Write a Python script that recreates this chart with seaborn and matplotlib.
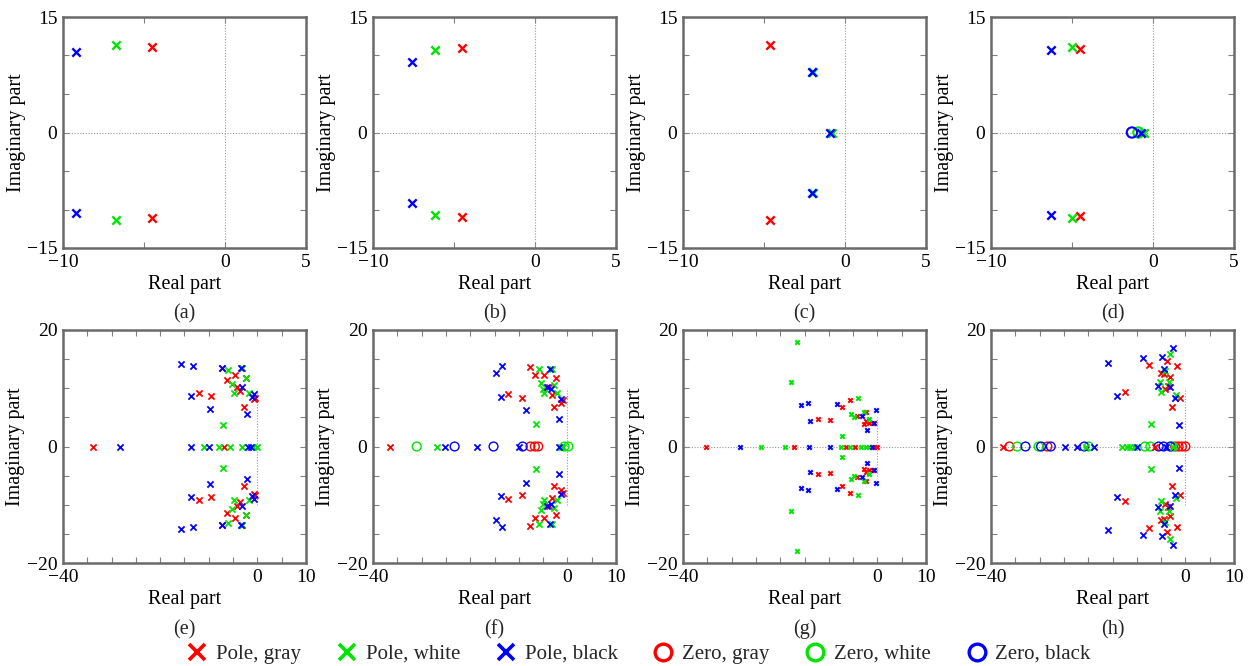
import matplotlib
matplotlib.use("Agg")
import matplotlib.pyplot as plt
from matplotlib.lines import Line2D
import seaborn as sns

# pole / zero locations, as (real, imag)
# imag != 0 means a conjugate pair (drawn at +imag and -imag)
a_pole_gray = [(-4.5, 11.1)]
a_pole_white = [(-6.7, 11.3)]
a_pole_black = [(-9.2, 10.5)]

b_pole_gray = [(-4.5, 11.0)]
b_pole_white = [(-6.2, 10.7)]
b_pole_black = [(-7.6, 9.1)]

c_pole_gray = [(-4.6, 11.3)]
c_pole_white = [(-1.95, 7.9), (-0.82, 0)]
c_pole_black = [(-2.05, 7.9), (-0.93, 0)]

d_pole_gray = [(-4.5, 10.9)]
d_pole_white = [(-5.0, 11.15), (-0.55, 0)]
d_pole_black = [(-6.3, 10.65), (-0.75, 0)]
d_zero_white = [(-0.9, 0)]
d_zero_black = [(-1.3, 0)]

e_pole_gray = [(-33.9, 0), (-6.8, 0), (-12.0, 9.2), (-9.5, 8.7), (-7.3, 13.5),
               (-6.2, 11.5), (-4.6, 12.2), (-4.1, 10.2), (-3.6, 9.6), (-3.2, 13.4),
               (-2.3, 11.7), (-2.7, 6.8), (-0.7, 8.1), (-0.5, 8.3)]
e_pole_white = [(-11.0, 0), (-7.9, 0), (-5.6, 0), (-3.2, 0), (-1.0, 0), (-0.1, 0),
                (-7.0, 3.7), (-6.0, 13.2), (-5.3, 10.8), (-4.9, 9.2), (-3.1, 13.4),
                (-2.3, 11.8), (-1.65, 9.2)]
e_pole_black = [(-28.3, 0), (-13.7, 0), (-9.9, 0), (-1.85, 0), (-1.3, 0),
                (-15.8, 14.2), (-13.3, 13.9), (-13.7, 8.6), (-9.75, 6.5), (-7.35, 13.5),
                (-3.2, 10.2), (-3.4, 13.4), (-2.2, 5.5), (-0.8, 9.0), (-1.2, 8.5)]

f_pole_gray = [(-36.4, 0), (-12.2, 9.0), (-9.4, 8.3), (-7.6, 13.6), (-6.7, 12.2),
               (-4.9, 12.3), (-3.8, 10.2), (-2.4, 11.7), (-3.1, 8.8), (-2.7, 6.8),
               (-1.0, 8.0), (-1.4, 7.5)]
f_pole_white = [(-26.8, 0), (-1.3, 0), (-0.9, 0), (-6.4, 3.9), (-5.8, 13.3),
                (-5.5, 10.9), (-5.0, 9.9), (-4.8, 9.1), (-3.1, 13.3), (-2.7, 10.5),
                (-2.1, 9.2)]
f_pole_black = [(-25.1, 0), (-18.5, 0), (-10.0, 0), (-1.7, 0), (-14.6, 12.6),
                (-13.4, 13.8), (-13.7, 8.5), (-8.6, 6.2), (-4.1, 10.3), (-3.6, 13.3),
                (-3.3, 9.9), (-1.7, 4.7), (-1.4, 8.1)]
f_zero_gray = [(-7.6, 0), (-6.7, 0), (-6.0, 0)]
f_zero_white = [(-31.0, 0), (-0.6, 0), (0.2, 0)]
f_zero_black = [(-23.2, 0), (-15.2, 0), (-9.2, 0)]

g_pole_gray = [(-35.2, 0), (-17.2, 0), (-6.5, 0), (-4.7, 0), (-0.7, 0), (-0.1, 0),
               (-12.2, 4.7), (-9.75, 4.5), (-7.2, 6.7), (-5.7, 7.9), (-4.1, 5.2),
               (-2.4, 6.0), (-2.7, 3.8), (-2.4, 4.4), (-1.7, 4.1), (-1.0, 4.1)]
g_pole_white = [(-23.9, 0), (-19.1, 0), (-7.4, 0), (-5.6, 0), (-3.4, 0), (-2.3, 0),
                (-1.7, 0), (-16.5, 18.0), (-17.7, 11.1), (-7.2, 1.8), (-4.0, 8.3),
                (-5.5, 5.6), (-4.8, 5.0), (-2.7, 6.0), (-1.7, 4.7)]
g_pole_black = [(-28.3, 0), (-14.1, 0), (-9.75, 0), (-1.2, 0), (-15.8, 7.1),
                (-14.3, 7.4), (-13.9, 4.3), (-8.4, 7.3), (-3.1, 5.2), (-0.35, 6.3),
                (-2.2, 2.8), (-0.7, 4.1)]

h_pole_gray = [(-37.5, 0), (-6.3, 0), (-12.4, 9.3), (-7.4, 14.0), (-5.0, 12.6),
               (-4.5, 12.5), (-4.3, 9.9), (-3.6, 10.4), (-3.1, 12.0), (-3.8, 14.7),
               (-1.7, 13.9), (-1.2, 8.4), (-2.8, 6.8)]
h_pole_white = [(-20.5, 0), (-13.1, 0), (-12.0, 0), (-11.3, 0), (-10.5, 0), (-2.5, 0),
                (-7.1, 3.8), (-5.3, 11.0), (-5.0, 9.4), (-4.1, 12.9), (-3.4, 11.1),
                (-3.2, 15.9), (-1.9, 8.9)]
h_pole_black = [(-24.8, 0), (-22.4, 0), (-18.9, 0), (-9.9, 0), (-4.0, 0),
                (-16.0, 14.3), (-14.1, 8.7), (-8.7, 15.2), (-4.8, 15.4), (-5.6, 10.4),
                (-4.5, 13.3), (-3.1, 10.3), (-2.5, 16.9), (-2.1, 8.4), (-1.4, 3.7)]
h_zero_gray = [(-36.2, 0), (-28.4, 0), (-2.1, 0), (-1.4, 0), (-0.7, 0), (0.0, 0)]
h_zero_white = [(-34.6, 0), (-30.2, 0), (-19.9, 0), (-8.3, 0), (-7.2, 0), (-2.7, 0)]
h_zero_black = [(-32.9, 0), (-29.7, 0), (-27.7, 0), (-20.8, 0), (-5.5, 0), (-4.5, 0), (-3.1, 0)]

panel_labels = ["(a)", "(b)", "(c)", "(d)", "(e)", "(f)", "(g)", "(h)"]
legend_labels = ["Pole, gray", "Pole, white", "Pole, black",
                 "Zero, gray", "Zero, white", "Zero, black"]

RED, GREEN, BLUE = "#ff0000", "#00e600", "#0000ff"
FRAME = "#6a6a6a"

panels = [
    ([a_pole_gray, a_pole_white, a_pole_black], [[], [], []]),
    ([b_pole_gray, b_pole_white, b_pole_black], [[], [], []]),
    ([c_pole_gray, c_pole_white, c_pole_black], [[], [], []]),
    ([d_pole_gray, d_pole_white, d_pole_black], [[], d_zero_white, d_zero_black]),
    ([e_pole_gray, e_pole_white, e_pole_black], [[], [], []]),
    ([f_pole_gray, f_pole_white, f_pole_black], [f_zero_gray, f_zero_white, f_zero_black]),
    ([g_pole_gray, g_pole_white, g_pole_black], [[], [], []]),
    ([h_pole_gray, h_pole_white, h_pole_black], [h_zero_gray, h_zero_white, h_zero_black]),
]


def mirror(pts):
    xs, ys = [], []
    for re, im in pts:
        xs.append(re)
        ys.append(im)
        if im != 0:
            xs.append(re)
            ys.append(-im)
    return xs, ys


def draw_points(ax, pts, color, hollow, size, lw):
    if not pts:
        return
    xs, ys = mirror(pts)
    if hollow:
        sns.scatterplot(x=xs, y=ys, marker="o", s=size, color=color, facecolors="none",
                        edgecolor=color, linewidth=lw, ax=ax, legend=False, zorder=3)
    else:
        sns.scatterplot(x=xs, y=ys, marker="x", s=size, color=color,
                        linewidth=lw, ax=ax, legend=False, zorder=4)


sns.set_theme(style="white")
plt.rcParams["font.family"] = ["Liberation Serif", "DejaVu Serif"]
plt.rcParams["axes.unicode_minus"] = True

fig = plt.figure(figsize=(12.55, 6.66), dpi=100)
lefts = [63, 373, 683, 991]
W, H = 1255, 666

for i, (poles, zeros) in enumerate(panels):
    row, col = divmod(i, 4)
    top, bot = (17, 248) if row == 0 else (330, 563)
    ax = fig.add_axes([lefts[col] / W, 1 - bot / H, 243 / W, (bot - top) / H])

    if row == 0:
        xlim, ylim = (-10, 5), (-15, 15)
        xt = [-10, -5, 0, 5]
        xl = ["\u221210", "", "0", "5"]
        yt = [-15, -10, -5, 0, 5, 10, 15]
        yl = ["\u221215", "", "", "0", "", "", "15"]
        psize, plw, zsize, zlw = 36, 1.7, 55, 1.5
    else:
        xlim, ylim = (-40, 10), (-20, 20)
        xt = list(range(-40, 11, 5))
        xl = ["\u221240"] + [""] * 7 + ["0", "", "10"]
        yt = list(range(-20, 21, 5))
        yl = ["\u221220", "", "", "", "0", "", "", "", "20"]
        psize, plw, zsize, zlw = 20, 1.3, 40, 1.0
        if i == 6:
            psize, plw = 10, 1.5

    # reference lines through the origin
    gl = dict(color="#9a9a9a", lw=0.8, ls=(0, (1, 1.5)), zorder=1)
    if row == 0:
        ax.axhline(0, **gl)
        ax.axvline(0, **gl)
    else:
        span = 5 if i == 6 else 10
        ax.axvline(0, ymin=(20 - span) / 40, ymax=(20 + span) / 40, **gl)
        if i in (6, 7):
            ax.axhline(0, **gl)

    for pts, c in zip(zeros, [RED, GREEN, BLUE]):
        draw_points(ax, pts, c, True, zsize, zlw)
    for pts, c in zip(poles, [RED, GREEN, BLUE]):
        draw_points(ax, pts, c, False, psize, plw)

    ax.set_xlim(*xlim)
    ax.set_ylim(*ylim)
    ax.set_xticks(xt)
    ax.set_xticklabels(xl)
    ax.set_yticks(yt)
    ax.set_yticklabels(yl)
    ax.tick_params(direction="in", length=4, width=0.8, color="#808080",
                   top=True, right=True, bottom=True, left=True,
                   labelsize=14, pad=4, labelcolor="black")
    for sp in ax.spines.values():
        sp.set_visible(True)
        sp.set_color(FRAME)
        sp.set_linewidth(1.8)
    ax.set_xlabel("Real part", fontsize=14.5, labelpad=3, color="black")
    ax.set_ylabel("Imaginary part", fontsize=14.5, labelpad=1, color="black")
    ax.text(0.5, -0.285, panel_labels[i], transform=ax.transAxes,
            ha="center", va="center", fontsize=14.5)

handles = []
for lab, c in zip(legend_labels, [RED, GREEN, BLUE] * 2):
    if lab.startswith("Pole"):
        handles.append(Line2D([], [], ls="none", marker="x", color=c,
                              markersize=11, mew=2.6, label=lab))
    else:
        handles.append(Line2D([], [], ls="none", marker="o", color=c, mfc="none",
                              markersize=12, mew=2.4, label=lab))
fig.legend(handles=handles, loc="center", bbox_to_anchor=(0.509, 0.018), ncol=6,
           frameon=False, fontsize=15, handletextpad=0.4, columnspacing=1.7,
           handlelength=1.0)

fig.savefig("out.png", dpi=100)
